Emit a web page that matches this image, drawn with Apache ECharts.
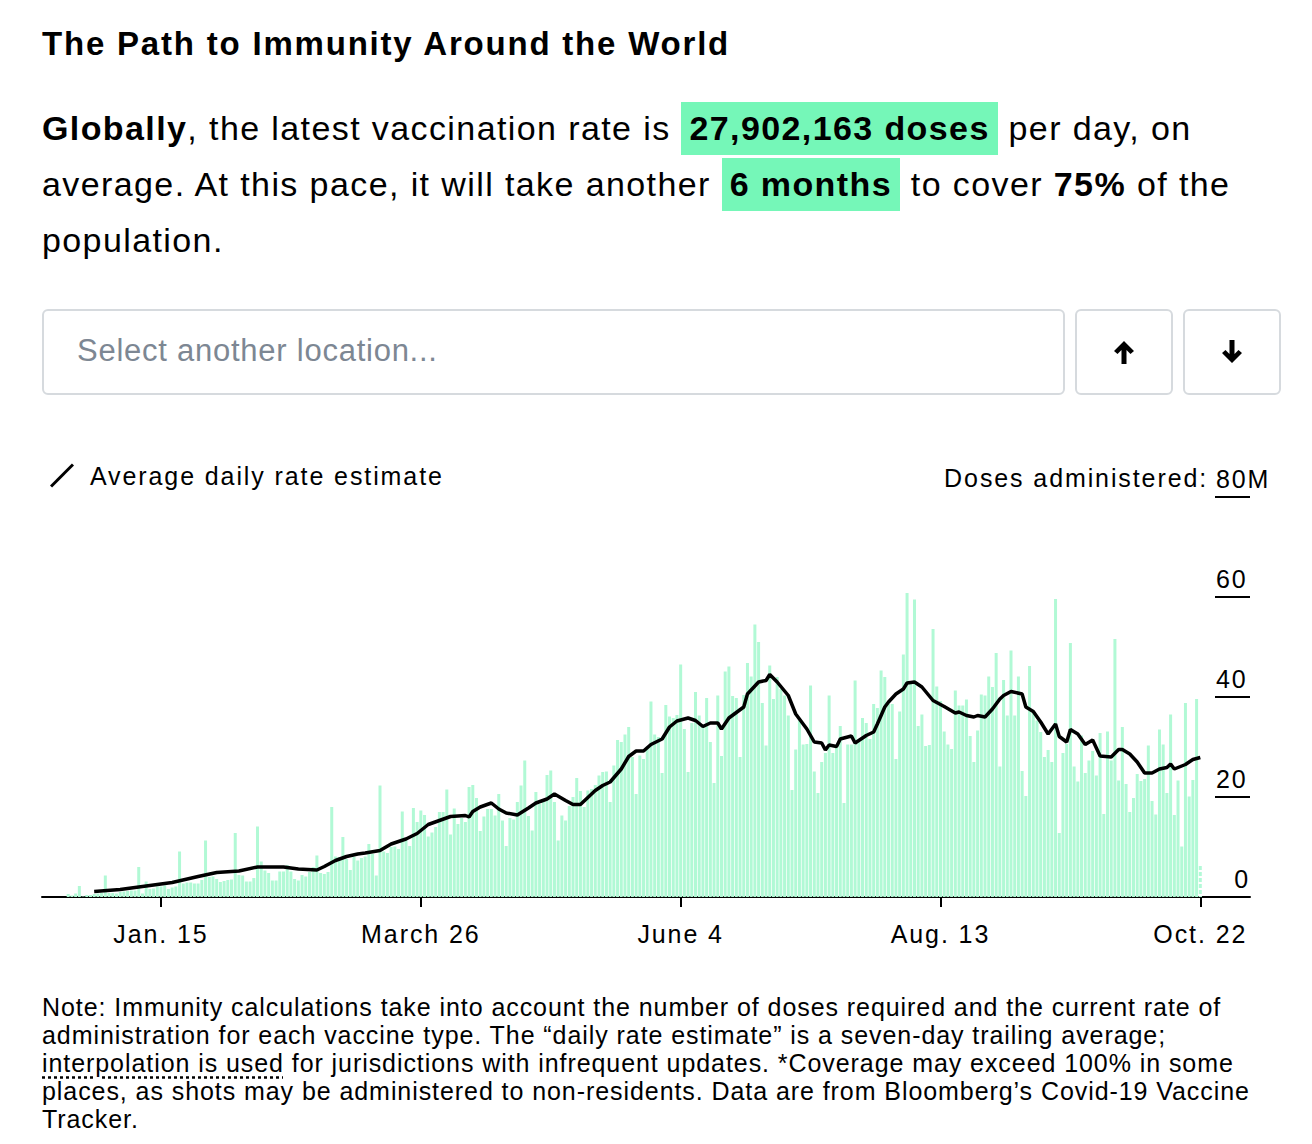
<!DOCTYPE html>
<html>
<head>
<meta charset="utf-8">
<script src="https://cdn.jsdelivr.net/npm/echarts@6/dist/echarts.min.js"></script>
<style>
  html, body { margin: 0; padding: 0; background: #fff; }
  body { width: 1312px; height: 1144px; position: relative; overflow: hidden;
         font-family: "Liberation Sans", Arial, Helvetica, sans-serif; color: #000; }
  #title { position: absolute; left: 42px; top: 25px; font-size: 33px; letter-spacing: 1.8px; font-weight: bold; white-space: nowrap; }
  #lede { position: absolute; left: 42px; top: 100px; font-size: 34px; letter-spacing: 1.4px; line-height: 56px; white-space: nowrap; }
  .hl { background: #75f7b8; font-weight: bold; padding: 7px 8px 8px 8px; }
  #search { position: absolute; left: 42px; top: 309px; width: 1019px; height: 82px; border: 2px solid #d6dade; border-radius: 6px; }
  #search span { position: absolute; left: 33px; top: 22px; font-size: 31px; letter-spacing: 0.75px; color: #7d8793; white-space: nowrap; }
  .btn { position: absolute; top: 309px; width: 94px; height: 82px; border: 2px solid #d6dade; border-radius: 6px; }
  .btn svg { position: absolute; left: 35px; top: 29px; }
  #chart { position: absolute; left: 0; top: 440px; width: 1312px; height: 540px; }
  #chart text { letter-spacing: 1.9px; }
  #note { position: absolute; left: 42px; top: 993px; font-size: 25px; letter-spacing: 0.93px; line-height: 28px; white-space: nowrap; }
  .dot { text-decoration: underline dotted; text-underline-offset: 4px; }
</style>
</head>
<body>
<div id="title">The Path to Immunity Around the World</div>
<div id="lede"><b>Globally</b>, the latest vaccination rate is <span class="hl">27,902,163 doses</span> per day, on<br>average. At this pace, it will take another <span class="hl">6 months</span> to cover <b>75%</b> of the<br>population.</div>
<div id="search"><span>Select another location...</span></div>
<div class="btn" style="left:1075px"><svg width="24" height="24" viewBox="0 0 24 24"><path d="M12 1 L22 11 L18.5 14 L14.5 10 L14.5 24 L9.5 24 L9.5 10 L5.5 14 L2 11 Z" fill="#000"/></svg></div>
<div class="btn" style="left:1183px"><svg width="24" height="24" viewBox="0 0 24 24"><path d="M12 23 L22 13 L18.5 10 L14.5 14 L14.5 0 L9.5 0 L9.5 14 L5.5 10 L2 13 Z" fill="#000"/></svg></div>
<div id="chart"></div>
<div id="note">Note: Immunity calculations take into account the number of doses required and the current rate of<br>administration for each vaccine type. The “daily rate estimate” is a seven-day trailing average;<br><span class="dot">interpolation is used</span> for jurisdictions with infrequent updates. *Coverage may exceed 100% in some<br>places, as shots may be administered to non-residents. Data are from Bloomberg’s Covid-19 Vaccine<br>Tracker.</div>
<script>
// Day index 0 = 2020-12-21; one value per day (millions of doses)
const startDate = '2020-12-21';
const dailyDoses = [
  0.6,0.3,0.7,2.2,0.1,0.4,0.4,0.6,0.7,0.8,
  4.3,0.8,0.8,0.7,1.0,1.1,1.2,1.3,1.3,6.0,
  0.7,3.1,1.6,1.7,2.1,2.1,2.3,1.6,1.9,2.1,
  9.1,2.7,2.9,2.9,2.7,2.7,3.4,11.3,4.0,4.1,
  3.6,3.0,3.2,3.4,3.5,12.8,4.4,4.3,3.1,3.1,
  3.8,14.1,7.1,5.3,4.8,3.3,3.3,5.1,5.1,6.4,
  5.1,3.6,3.3,4.4,4.1,5.0,6.0,8.3,4.8,4.6,
  5.0,18.0,8.1,8.0,12.0,7.6,5.4,8.0,7.3,7.8,
  8.1,10.6,8.6,4.3,22.3,9.1,8.8,10.0,10.1,9.6,
  17.1,11.4,10.2,17.8,15.0,17.3,16.4,12.1,12.9,14.0,
  17.0,17.0,21.5,12.5,17.7,14.6,15.8,15.0,22.0,22.4,
  19.8,13.2,16.1,17.6,17.6,16.3,20.6,15.3,10.2,15.8,
  15.5,19.0,22.3,27.3,16.2,13.3,21.0,18.6,19.0,24.4,
  25.3,19.0,11.3,16.3,15.3,18.2,20.0,23.8,21.2,18.0,
  21.3,21.6,22.4,24.3,25.0,25.1,19.0,26.3,31.4,31.0,
  32.5,34.0,28.0,20.6,28.3,27.6,30.1,39.1,32.5,32.0,
  24.8,38.4,36.1,35.8,36.4,46.5,33.6,25.0,34.8,41.0,
  36.3,34.1,39.8,31.0,22.8,40.3,28.2,45.1,46.1,40.2,
  39.8,28.0,40.4,46.8,44.1,54.5,51.0,38.8,30.3,46.3,
  39.6,44.0,41.6,40.3,36.3,21.4,29.5,35.3,30.5,30.6,
  42.3,25.1,20.8,27.0,28.8,40.3,28.8,30.0,34.2,18.8,
  30.5,30.5,43.3,31.4,35.8,34.8,31.6,38.6,37.8,45.3,
  44.0,38.6,38.6,27.6,37.1,48.5,60.8,42.6,59.5,34.2,
  36.5,30.2,30.4,53.6,42.1,39.2,33.1,30.5,29.6,41.3,
  38.3,38.3,39.5,32.2,27.0,33.3,40.5,40.3,44.1,42.0,
  48.8,26.1,43.4,36.3,49.3,36.3,44.1,25.2,20.2,46.2,
  36.8,35.3,33.0,28.0,29.4,27.0,59.6,12.8,28.8,30.6,
  50.8,26.1,23.1,32.3,24.8,27.3,29.2,24.3,32.8,16.6,
  33.1,27.3,51.6,23.3,34.0,22.6,17.0,19.8,24.6,23.2,
  23.6,30.3,19.2,16.5,33.5,30.5,20.8,36.5,16.4,23.3,
  10.1,38.8,20.1,23.4,39.6,6.5
];
// 7-day average line: day index and value (millions)
const lineDays = [7,14,20,28,35,40,46,51,58,62,67,69,72,75,78,80,84,87,91,94,97,100,103,107,108,109,111,114,116,118,121,124,126,129,131,134,136,138,142,144,146,149,151,153,155,157,160,162,164,167,169,171,173,175,176,178,182,183,186,188,189,191,194,196,199,201,203,204,205,207,208,211,212,215,217,218,220,221,223,225,226,228,230,233,236,239,240,242,244,245,247,249,251,252,254,257,258,260,262,264,266,267,269,270,272,274,276,278,281,283,284,286,288,290,292,294,296,297,298,301,303,305];
const lineValues = [1.1,1.5,2.1,2.9,4.1,4.9,5.2,6.0,6.0,5.6,5.4,6.1,7.3,8.1,8.6,8.8,9.3,10.6,11.6,12.7,14.5,15.3,16.1,16.3,16.0,17.1,18.0,18.8,17.6,16.8,16.4,17.8,18.8,19.6,20.6,19.3,18.5,18.5,21.3,22.3,23.0,25.6,28.1,29.2,29.2,30.5,31.6,34.0,35.2,35.8,35.3,34.1,34.8,34.8,33.6,35.8,38.0,40.6,43.0,43.3,44.5,43.0,40.3,36.6,33.6,31.0,30.8,29.4,30.4,30.1,31.6,32.2,30.8,32.3,33.0,34.6,38.0,39.0,40.6,41.6,42.8,43.0,42.0,39.3,38.1,36.8,37.0,36.3,36.0,36.3,36.0,37.6,39.6,40.3,41.1,40.6,38.0,37.1,35.0,32.6,34.6,32.1,31.0,33.5,32.6,30.5,31.4,28.2,28.0,29.5,29.5,28.6,27.0,24.8,24.8,25.6,25.9,26.6,25.6,26.5,27.5,27.9];
const tickDays = [25, 95, 165, 235, 305];
const tickLabels = ['Jan. 15', 'March 26', 'June 4', 'Aug. 13', 'Oct. 22'];

const barData = dailyDoses.map(function (v, i) {
  const item = { value: [i, v] };
  if (i === dailyDoses.length - 1) {
    item.itemStyle = { color: '#ffffff', decal: { symbol: 'rect', symbolSize: 1, dashArrayX: [[8, 0]], dashArrayY: [4, 2], color: '#b3f9d7', backgroundColor: '#ffffff' } };
  }
  return item;
});
const lineData = lineDays.map(function (d, i) { return [d, lineValues[i]]; });
const FONT = '"Liberation Sans", Arial, Helvetica, sans-serif';

const chart = echarts.init(document.getElementById('chart'), null, { renderer: 'svg' });
chart.setOption({
  animation: false,
  textStyle: { fontFamily: FONT, color: '#000' },
  grid: { left: 42, right: 62, top: 57, bottom: 83, containLabel: false },
  legend: {
    left: 45, top: 18, selectedMode: false, itemWidth: 24, itemHeight: 24,
    data: [{ name: 'Average daily rate estimate', icon: 'path://M0,22 L21,1 L23,3 L2,24 Z' }],
    textStyle: { fontSize: 25, color: '#000', fontFamily: FONT, padding: [0, 0, 0, 11] }
  },
  graphic: [{
    type: 'text', right: 140, top: 25,
    style: { text: 'Doses administered:', font: '25px ' + FONT, fill: '#000' }
  }],
  xAxis: {
    type: 'value',
    min: -7.06,
    max: 318.39,
    axisLine: { show: true, onZero: false, lineStyle: { color: '#000', width: 2 } },
    axisTick: { show: true, length: 10, lineStyle: { color: '#000', width: 2 }, customValues: tickDays },
    axisLabel: {
      customValues: tickDays, fontSize: 25, color: '#000', margin: 24, fontFamily: FONT,
      formatter: function (val) {
        let best = 0;
        for (let i = 1; i < tickDays.length; i++) if (Math.abs(tickDays[i] - val) < Math.abs(tickDays[best] - val)) best = i;
        return tickLabels[best];
      }
    },
    splitLine: { show: false }
  },
  yAxis: {
    type: 'value', position: 'right', min: 0, max: 80, interval: 20,
    axisLine: { show: false, onZero: false },
    axisTick: { show: true, inside: true, length: 35, lineStyle: { color: '#000', width: 2 } },
    axisLabel: {
      inside: true, margin: 34, align: 'left', verticalAlign: 'bottom', fontSize: 25, color: '#000',
      padding: [0, 0, 6, 0], fontFamily: FONT,
      formatter: function (v) { return v === 80 ? '80M' : (v === 0 ? '{z|0}' : String(v)); },
      rich: { z: { width: 34, align: 'right', fontSize: 25, color: '#000', fontFamily: FONT } }
    },
    splitLine: { show: false }
  },
  series: [
    {
      name: 'Daily doses', type: 'bar', data: barData, barWidth: 3,
      itemStyle: { color: '#b1f9d5' }, z: 1, silent: true
    },
    {
      name: 'Average daily rate estimate', type: 'line', data: lineData, showSymbol: false,
      lineStyle: { color: '#000', width: 3.5 }, itemStyle: { color: '#000' }, z: 3, silent: true
    }
  ]
});
</script>
</body>
</html>
